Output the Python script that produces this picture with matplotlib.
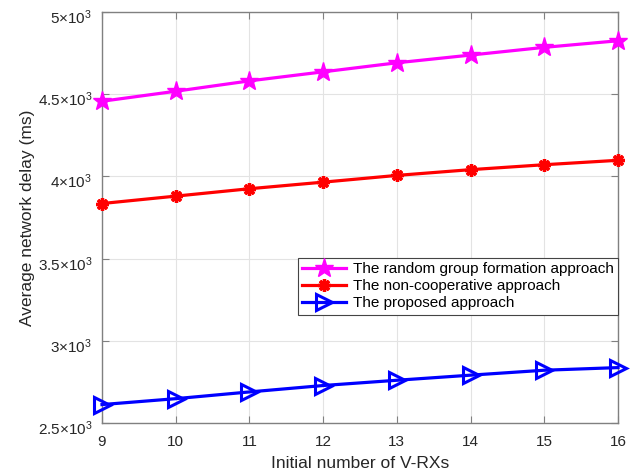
import matplotlib
matplotlib.use("Agg")
import matplotlib.pyplot as plt
import matplotlib.transforms as mtransforms
import numpy as np

##### data #####
n_rx = [9, 10, 11, 12, 13, 14, 15, 16]
random_group = [4457, 4518, 4581, 4636, 4691, 4738, 4785, 4825]
non_coop = [3835, 3880, 3925, 3965, 4006, 4041, 4071, 4098]
proposed = [2612, 2648, 2689, 2728, 2760, 2791, 2821, 2837]

yticks = [2500, 3000, 3500, 4000, 4500, 5000]
ytick_labels = [r"$\mathregular{2.5{\times}10^3}$", r"$\mathregular{3{\times}10^3}$",
                r"$\mathregular{3.5{\times}10^3}$", r"$\mathregular{4{\times}10^3}$",
                r"$\mathregular{4.5{\times}10^3}$", r"$\mathregular{5{\times}10^3}$"]

##### style #####
plt.rcParams["font.family"] = ["Liberation Sans", "DejaVu Sans"]
plt.rcParams["mathtext.fontset"] = "custom"
plt.rcParams["mathtext.rm"] = "Liberation Sans"
plt.rcParams["font.size"] = 11

fig = plt.figure(figsize=(6.41, 4.76), dpi=100)
ax = fig.add_axes([102 / 641, 1 - 423 / 476, 516 / 641, 411 / 476])

ax.plot(n_rx, random_group, color="#ff00ff", lw=2.3, marker="*", ms=14,
        mfc="#ff00ff", mec="#ff00ff", clip_on=False, zorder=3,
        label="The random group formation approach")
ax.plot(n_rx, non_coop, color="#ff0000", lw=2.3, marker=(8, 2, 0), ms=9,
        mew=2.4, mec="#ff0000", clip_on=False, zorder=3,
        label="The non-cooperative approach")
ax.plot(n_rx, proposed, color="#0000ff", lw=2.3, marker=">", ms=11,
        mfc="none", mew=2.2, mec="#0000ff", clip_on=False, zorder=3,
        label="The proposed approach")

ax.set_xlim(9, 16)
ax.set_ylim(2500, 5000)
ax.set_xticks(n_rx)
ax.set_yticks(yticks)
ax.set_yticklabels(ytick_labels)
ax.set_xlabel("Initial number of V-RXs", color="#262626", fontsize=12.5, labelpad=5)
ax.set_ylabel("Average network delay (ms)", color="#262626", fontsize=12.5, labelpad=2)

ax.grid(True, color="#e3e3e3", lw=0.8)
ax.set_axisbelow(True)
for s in ax.spines.values():
    s.set_color("#808080")
    s.set_linewidth(1.0)
ax.tick_params(direction="in", top=True, right=True, length=5, colors="#808080",
               labelcolor="#262626")
ax.tick_params(axis="x", pad=9)
ax.tick_params(axis="y", pad=7)

# MATLAB puts the y tick labels slightly below the tick
shift = mtransforms.ScaledTranslation(0, -3 / 72, fig.dpi_scale_trans)
for lbl in ax.get_yticklabels():
    lbl.set_transform(lbl.get_transform() + shift)

leg = ax.legend(loc="upper right", bbox_to_anchor=(1.0, 0.402), fancybox=False,
                edgecolor="#444444", framealpha=1, borderpad=0.3, labelspacing=0.2,
                handlelength=2.9, handletextpad=0.4, borderaxespad=0, fontsize=11)
leg.get_frame().set_linewidth(0.8)

plt.savefig("out.png", dpi=100)
